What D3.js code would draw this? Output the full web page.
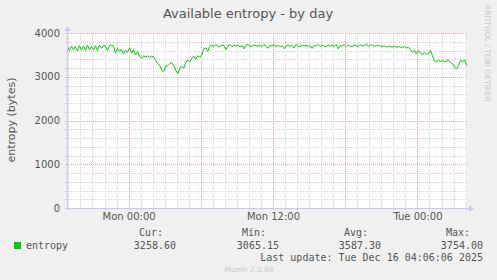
<!DOCTYPE html>
<html>
<head>
<meta charset="utf-8">
<script src="https://cdn.jsdelivr.net/npm/d3@7"></script>
<style>
body { margin: 0; background: #f0f0f0; }
text { font-family: "DejaVu Sans", sans-serif; fill: #555; }
.mono { font-family: "DejaVu Sans Mono", monospace; }
</style>
</head>
<body>
<div id="chart"></div>
<script>

// samples every 10 minutes, first one Sun Dec 14 18:55 UTC
var firstSample = Date.UTC(2025, 11, 14, 18, 55);
var stepMinutes = 10;
var entropy = [
  3680, 3600, 3700, 3620, 3690, 3590, 3710, 3610, 3700, 3600, 3720, 3620, 3690, 3610, 3710, 3600, 3720, 3650,
  3720, 3700, 3600, 3710, 3730,
  3700, 3540, 3650, 3580, 3620, 3520, 3600, 3560,
  3660, 3540, 3620, 3500, 3580,
  3460, 3420, 3480,
  3450, 3480, 3440, 3470, 3450,
  3380, 3300, 3260, 3150,
  3120, 3240, 3250, 3300, 3320, 3260, 3150, 3065, 3180, 3240, 3200, 3330, 3380, 3340, 3420, 3470, 3400, 3480, 3450, 3490, 3640, 3660, 3580, 3700,
  3720, 3690, 3740, 3700, 3680, 3730, 3710, 3620, 3700, 3740, 3690, 3720, 3700, 3730, 3680, 3710, 3640, 3720, 3740, 3700, 3690, 3730, 3710, 3700,
  3720, 3690, 3740, 3700, 3650, 3720, 3700, 3740, 3680, 3720, 3690, 3710, 3640, 3700, 3730, 3690, 3720, 3660, 3740, 3700, 3680, 3730, 3700, 3720, 3690, 3710, 3650, 3720, 3700, 3740, 3690, 3720, 3700, 3680, 3730,
  3700, 3720, 3690, 3740, 3640, 3710, 3700, 3730, 3690, 3720, 3700, 3680, 3730, 3710, 3690, 3740, 3700, 3720, 3754, 3700, 3730, 3720, 3690, 3710, 3720, 3700, 3690, 3710, 3680, 3700, 3690, 3680, 3700, 3670, 3690,
  3680, 3670, 3690, 3660, 3670, 3620, 3560, 3600,
  3520, 3600, 3540, 3500, 3560, 3510, 3530, 3600,
  3480, 3360, 3340, 3380, 3350,
  3370, 3340, 3360, 3380, 3330, 3300,
  3220, 3180, 3260, 3380, 3340, 3390, 3259
];

var yTicks = [0, 1000, 2000, 3000, 4000];
var xTickTimes = [Date.UTC(2025, 11, 15, 0), Date.UTC(2025, 11, 15, 12), Date.UTC(2025, 11, 16, 0)];
var timeStart = Date.UTC(2025, 11, 14, 18, 53), timeEnd = Date.UTC(2025, 11, 16, 4, 7);

var statLabels = ['Cur:', 'Min:', 'Avg:', 'Max:'];
var statValues = ['3258.60', '3065.15', '3587.30', '3754.00'];
var seriesName = 'entropy';
var lastUpdate = 'Last update: Tue Dec 16 04:06:06 2025';

var W = 497, H = 280;
var chartC = { x0: 67, x1: 467, y0: 33, y1: 208 };
var axisColor = '#c8c8f0';

var svg = d3.select('#chart').append('svg')
    .attr('width', W)
    .attr('height', H);

var x = d3.scaleUtc()
    .domain([new Date(timeStart), new Date(timeEnd)])
    .range([chartC.x0, chartC.x1]);

var y = d3.scaleLinear()
    .domain([0, 4000])
    .range([chartC.y1, chartC.y0]);

var data = entropy.map((v, i) => ({ t: new Date(firstSample + i * stepMinutes * 60000), v: v }));

// title
svg.append('text')
    .attr('x', 248).attr('y', 18)
    .attr('text-anchor', 'middle')
    .style('font-size', '13px')
    .text('Available entropy - by day');

svg.append('text')
    .attr('transform', 'translate(15,120) rotate(-90)')
    .attr('text-anchor', 'middle')
    .style('font-size', '11px')
    .text('entropy (bytes)');

svg.append('text')
    .attr('transform', 'translate(485,5) rotate(90)')
    .style('font-size', '7.5px')
    .style('fill', '#c8c8c8')
    .text('RRDTOOL / TOBI OETIKER');

// canvas
svg.append('rect')
    .attr('x', chartC.x0).attr('y', chartC.y0)
    .attr('width', chartC.x1 - chartC.x0)
    .attr('height', chartC.y1 - chartC.y0)
    .attr('fill', '#fff');

var grid = svg.append('g');

// minor grid
grid.selectAll('.hmin')
    .data(d3.range(200, 4001, 200).filter(d => d % 1000 != 0))
    .enter().append('line')
    .attr('x1', chartC.x0).attr('x2', chartC.x1)
    .attr('y1', d => Math.round(y(d)) + 0.5).attr('y2', d => Math.round(y(d)) + 0.5)
    .attr('stroke', '#d4d4d4').attr('stroke-dasharray', '1,1');

grid.selectAll('.vmin')
    .data(x.ticks(d3.utcHour.every(1)).filter(d => d.getUTCHours() % 6 != 0))
    .enter().append('line')
    .attr('x1', d => Math.round(x(d)) + 0.5).attr('x2', d => Math.round(x(d)) + 0.5)
    .attr('y1', chartC.y0).attr('y2', chartC.y1)
    .attr('stroke', '#d4d4d4').attr('stroke-dasharray', '1,1');

// major grid
grid.selectAll('.hmaj')
    .data(yTicks.filter(d => d > 0))
    .enter().append('line')
    .attr('x1', chartC.x0).attr('x2', chartC.x1)
    .attr('y1', d => Math.round(y(d)) + 0.5).attr('y2', d => Math.round(y(d)) + 0.5)
    .attr('stroke', '#f0a8a8').attr('stroke-dasharray', '1,1');

grid.selectAll('.vmaj')
    .data(x.ticks(d3.utcHour.every(6)))
    .enter().append('line')
    .attr('x1', d => Math.round(x(d)) + 0.5).attr('x2', d => Math.round(x(d)) + 0.5)
    .attr('y1', chartC.y0).attr('y2', chartC.y1)
    .attr('stroke', '#f0a8a8').attr('stroke-dasharray', '1,1');

// axis ticks
grid.selectAll('.ytk')
    .data(d3.range(0, 4001, 200))
    .enter().append('line')
    .attr('x1', chartC.x0 - 2).attr('x2', chartC.x0)
    .attr('y1', d => Math.round(y(d)) + 0.5).attr('y2', d => Math.round(y(d)) + 0.5)
    .attr('stroke', axisColor);

grid.selectAll('.xtk')
    .data(x.ticks(d3.utcHour.every(1)))
    .enter().append('line')
    .attr('x1', d => Math.round(x(d)) + 0.5).attr('x2', d => Math.round(x(d)) + 0.5)
    .attr('y1', chartC.y1).attr('y2', chartC.y1 + 2)
    .attr('stroke', axisColor);

// the series
var line = d3.line()
    .x(d => x(d.t))
    .y(d => y(d.v));

svg.append('path')
    .datum(data)
    .attr('d', line)
    .attr('fill', 'none')
    .attr('stroke', '#00cc00')
    .attr('stroke-width', 1);

// axes
svg.append('line')
    .attr('x1', chartC.x0 - 2).attr('x2', chartC.x1 + 3)
    .attr('y1', chartC.y1 + 0.5).attr('y2', chartC.y1 + 0.5)
    .attr('stroke', axisColor);
svg.append('line')
    .attr('x1', chartC.x0 + 0.5).attr('x2', chartC.x0 + 0.5)
    .attr('y1', chartC.y1 + 2).attr('y2', chartC.y0 - 3)
    .attr('stroke', axisColor);
svg.append('path')
    .attr('d', `M${chartC.x1 + 7},${chartC.y1 + 0.5} L${chartC.x1 + 2},${chartC.y1 - 2.5} L${chartC.x1 + 2},${chartC.y1 + 3.5} Z`)
    .attr('fill', axisColor);
svg.append('path')
    .attr('d', `M${chartC.x0 + 0.5},${chartC.y0 - 7} L${chartC.x0 - 2.5},${chartC.y0 - 2} L${chartC.x0 + 3.5},${chartC.y0 - 2} Z`)
    .attr('fill', axisColor);

var yAxis = svg.append('g')
    .attr('transform', `translate(${chartC.x0},0)`)
    .call(d3.axisLeft(y).tickValues(yTicks).tickFormat(d3.format('d')).tickSize(0).tickPadding(7));
yAxis.select('.domain').remove();
yAxis.selectAll('text').style('font-size', '10px').style('font-family', '"DejaVu Sans", sans-serif').attr('fill', '#555');

var xAxis = svg.append('g')
    .attr('transform', `translate(0,${chartC.y1})`)
    .call(d3.axisBottom(x).tickValues(xTickTimes.map(d => new Date(d))).tickFormat(d3.utcFormat('%a %H:%M')).tickSize(0).tickPadding(5));
xAxis.select('.domain').remove();
xAxis.selectAll('text').style('font-size', '10px').style('font-family', '"DejaVu Sans", sans-serif').attr('fill', '#555');

// legend
var legend = svg.append('g');
legend.append('rect')
    .attr('x', 14).attr('y', 242)
    .attr('width', 7).attr('height', 7)
    .attr('fill', '#00cc00');
legend.append('text')
    .attr('class', 'mono')
    .attr('x', 26).attr('y', 249)
    .style('font-size', '10px')
    .text(seriesName);

var statX = [163, 266, 368, 470];
statLabels.forEach((s, i) => {
    legend.append('text')
        .attr('class', 'mono')
        .attr('x', statX[i]).attr('y', 236)
        .attr('text-anchor', 'end')
        .style('font-size', '10px')
        .text(s);
    legend.append('text')
        .attr('class', 'mono')
        .attr('x', statX[i] + 13).attr('y', 249)
        .attr('text-anchor', 'end')
        .style('font-size', '10px')
        .text(statValues[i]);
});

legend.append('text')
    .attr('class', 'mono')
    .attr('x', 483).attr('y', 261)
    .attr('text-anchor', 'end')
    .style('font-size', '10px')
    .text(lastUpdate);

svg.append('text')
    .attr('x', 249).attr('y', 272)
    .attr('text-anchor', 'middle')
    .style('font-size', '7.5px')
    .style('fill', '#c8c8c8')
    .text('Munin 2.0.69');

</script>
</body>
</html>
